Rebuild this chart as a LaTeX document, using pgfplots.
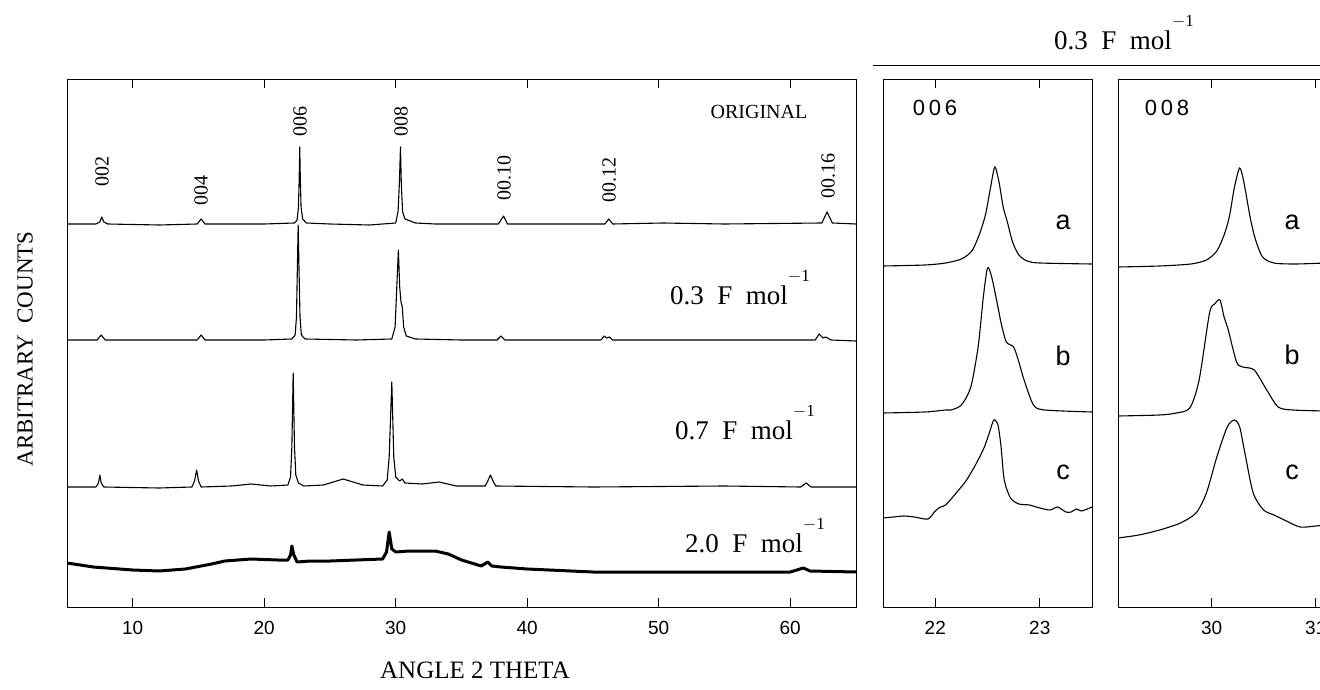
\documentclass[border=0pt]{standalone}
\usepackage{fontspec}
\setmainfont{Liberation Serif}
\newfontfamily\tickfont{Liberation Sans}
\usepackage{pgfplots}
\pgfplotsset{compat=1.18}

% F mol^-1 labels
\newcommand{\fmol}[1]{#1\ \ F\ \ mol\raisebox{0.85em}{\fontsize{17}{17}\selectfont$-$1}}

\begin{document}
\begin{tikzpicture}[x=1pt,y=1pt]
\path[use as bounding box, clip] (0,0) rectangle (1320,689);
\pgfplotsset{
  xrdpanel/.style={
    scale only axis, anchor=south west, height=528pt,
    ymin=0, ymax=528, ytick=\empty,
    axis line style={line width=0.9pt},
    tick style={black, line width=0.9pt},
    major tick length=9pt,
    xtick pos=both, tick align=inside,
    every tick label/.append style={font=\tickfont\fontsize{19}{21}\selectfont},
    xticklabel style={yshift=-11pt},
    /pgf/number format/assume math mode=true,
    clip=true,
  },
  trace/.style={black, line width=1.1pt, line join=round},
  strace/.style={black, line width=1.1pt, smooth, tension=0.45},
}

% ---------- main pattern ----------
\begin{axis}[xrdpanel, at={(67pt,82pt)}, width=789pt,
  xmin=5, xmax=65, xtick={10,20,...,60}]
% ORIGINAL
\addplot[trace] coordinates {
(5,383) (7.2,383) (7.5,385) (7.64,390) (7.8,385) (8.1,383) (12,382) (14.9,383)
(15.2,388) (15.5,383) (20,383) (22.3,384) (22.5,387) (22.6,400) (22.66,430)
(22.7,460) (22.74,430) (22.8,400) (22.92,388) (23.2,384) (25,383) (28,382)
(30.0,384) (30.18,396) (30.28,425) (30.36,460) (30.42,425) (30.52,395)
(30.7,388) (31.5,384) (33,383) (37.8,383) (38.2,391) (38.5,383) (45.9,383)
(46.2,388) (46.5,383) (50.3,384) (55,383) (62.4,384) (62.8,395) (63.2,384) (65,383)};
% 0.3 F/mol
\addplot[trace] coordinates {
(5,267) (7.3,267) (7.6,272) (7.9,267) (14.9,267) (15.2,272) (15.5,267) (20,267)
(22.1,268) (22.35,272) (22.45,290) (22.52,340) (22.58,382) (22.64,340) (22.72,290)
(22.82,272) (23.1,268) (27,267) (29.7,268) (29.95,280) (30.08,320) (30.2,357)
(30.3,320) (30.4,305) (30.5,300) (30.6,280) (30.8,271) (31.5,268) (35,267)
(37.7,267) (38.0,271) (38.3,267) (45.6,267) (45.85,271) (46.05,269) (46.25,270)
(46.5,267) (55,267) (61.9,267) (62.2,273) (62.5,269) (62.7,270) (63.1,267) (65,266)};
% 0.7 F/mol
\addplot[trace] coordinates {
(5,120) (7.2,120) (7.4,124) (7.5,132) (7.6,124) (7.8,120) (12,119) (14.5,120)
(14.7,126) (14.86,137) (15.0,126) (15.2,120) (17.5,121) (19,123) (20.5,121)
(21.8,122) (22.0,130) (22.1,160) (22.2,234) (22.3,160) (22.4,132) (22.6,124)
(23,121) (24.5,122) (26,128) (27.5,122) (29,121) (29.35,127) (29.5,150)
(29.7,225) (29.85,150) (30.0,130) (30.3,126) (30.5,128) (30.7,124) (32,123)
(33.3,125) (34.6,121) (36.8,121) (37.0,126) (37.2,132) (37.4,126) (37.6,121)
(45,120) (55,121) (60.8,120) (61.2,124) (61.6,120) (65,120)};
% 2.0 F/mol
\addplot[black, line width=3pt, line join=round] coordinates {
(5,44) (7,40) (10,37) (12,36) (14,38) (16,43) (17,46) (19,48) (21,47) (21.8,47)
(22.0,52) (22.1,61) (22.25,52) (22.5,45) (23.5,46) (25,46) (27,47) (29,48)
(29.3,55) (29.5,75) (29.7,58) (30,55) (31,56) (33,56) (34,53) (35,47) (36.5,41)
(37.0,45) (37.3,41) (38,40) (40,38) (45,35) (50,35) (55,35) (60,35) (61,39)
(61.5,36) (65,35)};
\end{axis}

% ---------- 006 detail ----------
\begin{axis}[xrdpanel, at={(883pt,82pt)}, width=209pt,
  xmin=21.5, xmax=23.5, xtick={22,23}]
\addplot[strace] coordinates {
(21.5,341) (21.9,342) (22.1,344) (22.25,348) (22.35,356) (22.42,372) (22.48,392)
(22.53,420) (22.57,440) (22.61,425) (22.65,400) (22.69,385) (22.74,365)
(22.8,352) (22.88,346) (23.0,344) (23.5,343)};
\addplot[strace] coordinates {
(21.5,194) (21.9,195) (22.1,197) (22.15,197) (22.25,202) (22.34,220) (22.41,260)
(22.46,310) (22.5,339) (22.54,330) (22.6,300) (22.63,284) (22.68,265) (22.75,260)
(22.8,245) (22.85,227) (22.94,202) (23.05,197) (23.5,195)};
\addplot[strace] coordinates {
(21.5,89) (21.6,90) (21.7,91) (21.8,90) (21.93,88) (22.0,96) (22.05,100)
(22.1,102) (22.2,114) (22.3,127) (22.4,145) (22.47,160) (22.52,175) (22.56,187)
(22.6,182) (22.63,160) (22.66,127) (22.72,109) (22.8,103) (22.9,102) (23.0,99)
(23.1,97) (23.17,100) (23.25,95) (23.3,95) (23.35,98) (23.4,96) (23.5,100)};
\end{axis}

% ---------- 008 detail ----------
\begin{axis}[xrdpanel, at={(1118pt,82pt)}, width=208pt,
  xmin=29.1, xmax=31.1, xtick={30,31}]
\addplot[strace] coordinates {
(29.1,340) (29.5,341) (29.8,343) (29.95,347) (30.05,356) (30.12,372) (30.17,390)
(30.22,420) (30.27,439) (30.31,425) (30.37,390) (30.42,368) (30.49,350)
(30.6,344) (30.8,343) (31.1,344)};
\addplot[strace] coordinates {
(29.1,191) (29.5,192) (29.66,194) (29.79,199) (29.88,227) (29.98,294) (30.03,303)
(30.08,307) (30.12,290) (30.16,277) (30.24,245) (30.3,240) (30.41,237)
(30.53,217) (30.64,200) (30.78,197) (31.1,196)};
\addplot[strace] coordinates {
(29.1,69) (29.3,72) (29.5,77) (29.7,84) (29.85,94) (29.95,114) (30.05,150)
(30.15,180) (30.22,187) (30.27,180) (30.32,154) (30.4,114) (30.5,97) (30.6,92)
(30.7,87) (30.85,80) (31.0,81) (31.1,82)};
\end{axis}

% ---------- texts ----------
\begin{scope}[every node/.style={inner sep=0pt, font=\fontsize{20}{22}\selectfont}]
\node[rotate=90] at (102,517) {002};
\node[rotate=90] at (201,498) {004};
\node[rotate=90] at (300,567) {006};
\node[rotate=90] at (401,567) {008};
\node[rotate=90] at (504,511) {00.10};
\node[rotate=90] at (609,509) {00.12};
\node[rotate=90] at (828,513) {00.16};
\node at (759,577) {ORIGINAL};
\end{scope}
\begin{scope}[every node/.style={inner sep=0pt, font=\fontsize{27}{29}\selectfont}]
\node at (740,401) {\fmol{0.3}};
\node at (745,266) {\fmol{0.7}};
\node at (755,153) {\fmol{2.0}};
\node at (1124,656) {\fmol{0.3}};
\end{scope}
\draw[line width=0.9pt] (873,624) -- (1320,624);
\begin{scope}[every node/.style={inner sep=0pt, font=\tickfont\fontsize{22}{24}\selectfont}]
\node at (935,581) {0\,0\,6};
\node at (1167,581) {0\,0\,8};
\end{scope}
\begin{scope}[every node/.style={inner sep=0pt, font=\tickfont\fontsize{27}{29}\selectfont}]
\node at (1063,467) {a};
\node at (1292,467) {a};
\node at (1063,333) {b};
\node at (1292,334) {b};
\node at (1063,217) {c};
\node at (1292,217) {c};
\end{scope}
\node[rotate=90, inner sep=0pt, font=\fontsize{23}{26}\selectfont] at (25,340) {ARBITRARY\ \ COUNTS};
\node[inner sep=0pt, font=\fontsize{25}{28}\selectfont] at (475,19) {ANGLE\ 2\ THETA};
\end{tikzpicture}
\end{document}
